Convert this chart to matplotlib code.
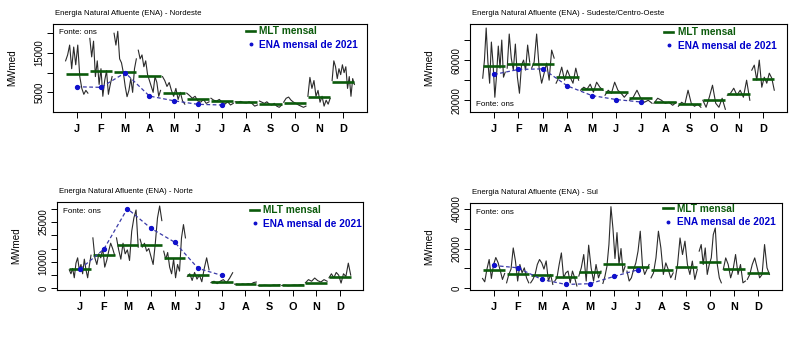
import numpy as np
import matplotlib
matplotlib.use("Agg")
import matplotlib.pyplot as plt
from matplotlib.lines import Line2D

plt.rcParams['font.family'] = ['Liberation Sans', 'DejaVu Sans']

month_labels = ['J', 'F', 'M', 'A', 'M', 'J', 'J', 'A', 'S', 'O', 'N', 'D']

# ---------------- Nordeste ----------------
ne_hist = [
    [13000, 14500, 17000, 11000, 16500, 12000, 17000, 9000, 6000, 4500, 5500, 4800],
    [18700, 14000, 18000, 9000, 13000, 7000, 11000, 4000, 8000, 10500, 4500, 7000, 9000],
    [20000, 17000, 20500, 13500, 12500, 10000, 6500, 3900, 5500, 8500, 5000, 11000, 13500],
    [15700, 13500, 14500, 11500, 13000, 9500, 8000, 6500, 5000, 9000, 7500, 4000, 5500],
    [9000, 8000, 6500, 7500, 5500, 4000, 6000, 3200, 5000, 2800, 2000],
    [4800, 4200, 3500, 4000, 2800, 2500, 3200, 2200, 2600],
    [3500, 3000, 2800, 3200, 2500, 2000, 2600, 1800, 2200],
    [2600, 2500, 2700, 2400, 2300, 2600, 2200, 1500, 1800],
    [2800, 2500, 2200, 2600, 2000, 1800, 2200, 1500, 1200, 1800],
    [2500, 3500, 3800, 3000, 2500, 2200, 1800, 1500, 1200, 1500],
    [4000, 8800, 6000, 8000, 4000, 5500, 2500, 4000, 1500, 3000, 2000, 3500],
    [8000, 13000, 11500, 8500, 11000, 9500, 12000, 10000, 11500, 6000, 9000, 4000, 8500, 7000],
]
ne_mlt = [9630, 10470, 10060, 9130, 4900, 3380, 2800, 2600, 2110, 2350, 3900, 7530]
ne_ena = [6420, 6270, 9960, 4060, 2870, 1960, 1790]

# ---------------- Sudeste/Centro-Oeste ----------------
se_hist = [
    [42000, 60000, 92000, 58000, 37000, 78000, 56000, 23000, 45000, 74000, 52000, 80000, 43000, 48000],
    [52000, 86000, 62000, 50000, 76000, 43000, 27000, 55000, 60000, 50000, 75000, 58000],
    [52000, 58000, 86000, 52000, 37000, 47000, 57000, 40000, 70000, 62000],
    [37000, 43000, 53000, 40000, 50000, 43000, 37000, 52000, 40000],
    [30000, 33000, 31000, 36000, 28000, 38000, 33000, 30000],
    [25000, 30000, 27000, 38000, 30000, 27000, 23000, 27000],
    [20000, 23000, 30000, 22000, 18000, 20000, 17000],
    [17000, 22000, 20000, 17000, 18000, 15000, 18000],
    [14000, 18000, 16000, 30000, 17000, 14000, 16000, 13000],
    [20000, 13000, 23000, 35000, 17000, 13000, 22000, 11000],
    [25000, 27000, 32000, 25000, 30000, 23000, 40000, 20000],
    [50000, 55000, 40000, 60000, 33000, 43000, 37000, 47000, 42000, 30000],
]
se_mlt = [54300, 55700, 55700, 42700, 31000, 28300, 22700, 18300, 16700, 20700, 26300, 41000]
se_ena = [45700, 50700, 51300, 34300, 24700, 20700, 18300]

# ---------------- Norte ----------------
n_hist = [
    [7000, 5500, 7500, 4000, 9500, 11500, 7000, 9000, 5500, 11000, 7000, 4000, 8500, 12500],
    [19000, 11500, 9000, 13000, 11500, 15000, 8000, 10500, 14000, 17000, 15000, 12500],
    [19000, 14500, 11000, 17000, 13000, 14500, 10500, 21500, 26500, 29500, 15500],
    [18500, 15500, 17000, 14000, 15000, 12000, 9000, 17000, 26500, 31000, 25500],
    [14000, 11000, 13500, 8000, 5500, 11000, 4000, 9000, 6500, 19000, 24000, 19000],
    [4500, 5500, 3000, 6000, 3500, 5000, 2500, 7500, 11500, 7000],
    [2200, 2700, 1800, 2700, 3300, 2100, 3800, 5900],
    [1600, 1500, 1400, 1700, 1500, 1800, 1600, 2200, 2400],
    [1100, 1000, 1200, 1100, 1000, 1300, 1200, 1400],
    [1100, 1200, 1000, 1100, 1300, 1200, 1400, 1300],
    [2100, 3300, 2700, 3900, 2900, 2400, 3300, 2700],
    [4000, 5500, 4000, 6000, 5000, 2000, 5500, 4500, 9500, 5000],
]
n_mlt = [7300, 12400, 16500, 16500, 11400, 4900, 2500, 1500, 1130, 1130, 2140, 4400]
n_ena = [7300, 14700, 30000, 22600, 17400, 7500, 4900]

# ---------------- Sul ----------------
s_hist = [
    [5000, 3300, 9700, 14500, 5000, 12000, 15500, 13000, 9000, 4500, 7500],
    [2800, 7000, 9700, 20300, 13700, 3700, 12000, 7800, 10300, 5300, 2800],
    [2800, 4500, 7000, 12000, 14500, 12800, 9700, 13800, 3700, 7000, 2000],
    [3700, 5300, 12000, 17800, 5300, 7800, 8700, 2800, 8700, 5300, 1200],
    [6200, 10300, 17000, 3700, 21700, 10300, 3700, 12000, 5300, 8700],
    [2500, 6000, 11000, 22000, 41000, 30000, 15000, 28000, 12000, 20000, 8000, 11000],
    [8700, 3700, 5300, 9500, 12800, 18700, 28700, 11300, 7000, 9500, 12000],
    [5300, 7800, 15300, 28700, 20300, 7000, 12800, 9500, 5300, 7800],
    [4500, 12000, 25300, 17000, 23700, 12000, 7000, 13700, 4500, 9500],
    [18700, 22000, 12000, 20300, 7000, 12000, 15300, 27000, 30300, 12000, 5300, 2800],
    [9500, 15300, 12000, 5300, 9500, 17000, 7000, 12000, 2800, 3700],
    [4500, 7000, 12000, 15300, 10300, 5300, 7000, 22000, 10300, 7000],
]
s_mlt = [9200, 7350, 6700, 5850, 8350, 12000, 10850, 9200, 10500, 13200, 9500, 7500]
s_ena = [11500, 10350, 4500, 2000, 2350, 6000, 9350]

W, H = 800, 337
fig = plt.figure(figsize=(8, 3.37), dpi=100)


def make_ax(x0, y0, x1, y1):
    return fig.add_axes([x0 / W, 1 - y1 / H, (x1 - x0) / W, (y1 - y0) / H])


def draw(ax, hist, mlt, ena, title, ylim, yticks, ylabels, leg_xy, fonte_xy, box_w, box_h):
    for i, vals in enumerate(hist):
        m = i + 1
        xs = np.linspace(m - 0.46, m + 0.46, len(vals))
        ax.plot(xs, vals, color='#2b2b2b', lw=0.8)
    mx = np.arange(1, len(mlt) + 1)
    ax.hlines(mlt, mx - 0.46, mx + 0.46, color='#0b5a0b', lw=1.9, zorder=3)
    ex = np.arange(1, len(ena) + 1)
    ax.plot(ex, ena, ls=(0, (3, 2)), color='#3a3aa8', lw=0.9, zorder=4)
    ax.plot(ex, ena, 'o', color='#1010cc', ms=2.8, zorder=5)
    ax.set_xlim(0.02, 12.98)
    ax.set_ylim(*ylim)
    ax.set_xticks(np.arange(1, 13))
    ax.set_xticklabels(month_labels, fontsize=7.8, fontweight='bold')
    ax.set_yticks(yticks)
    ax.set_yticklabels(ylabels, fontsize=6.9, rotation=90, va='center')
    ax.tick_params(axis='x', length=4, width=0.7, pad=5)
    ax.tick_params(axis='y', length=4.5, width=0.7, pad=1.5)
    for s in ax.spines.values():
        s.set_linewidth(0.8)
    ax.text(0.005, 1 + 10.7 / box_h, title, transform=ax.transAxes,
            fontsize=5.6, ha='left', va='center')
    ax.text(fonte_xy[0], fonte_xy[1], 'Fonte: ons', transform=ax.transAxes,
            fontsize=5.8, ha='left', va='center')
    ax.set_ylabel('MWmed', fontsize=7.1, va='center')
    ax.yaxis.set_label_coords(-41 / box_w, 0.5)
    handles = [Line2D([], [], color='#0b5a0b', lw=1.9),
               Line2D([], [], ls='none', marker='o', color='#1010cc', ms=1.8)]
    ax.legend(handles, ['MLT mensal', 'ENA mensal de 2021'],
              loc='upper left', bbox_to_anchor=leg_xy, frameon=False,
              prop={'weight': 'bold', 'size': 7.3}, handlelength=0.9,
              handletextpad=0.4, labelspacing=0.35, borderaxespad=0,
              borderpad=0, labelcolor=['#0b5a0b', '#0000cc'])


ax1 = make_ax(53, 24, 367, 112)
draw(ax1, ne_hist, ne_mlt, ne_ena, 'Energia Natural Afluente (ENA) - Nordeste',
     (13, 22350), [5000, 10000, 15000, 20000], ['5000', '', '15000', ''],
     (0.615, 0.975), (0.02, 0.905), 314, 88)

ax2 = make_ax(470, 24, 787, 112)
draw(ax2, se_hist, se_mlt, se_ena, 'Energia Natural Afluente (ENA) - Sudeste/Centro-Oeste',
     (8300, 96000), [20000, 40000, 60000, 80000], ['20000', '', '60000', ''],
     (0.613, 0.965), (0.02, 0.08), 317, 88)

ax3 = make_ax(57, 202, 363, 290)
draw(ax3, n_hist, n_mlt, n_ena, 'Energia Natural Afluente (ENA) - Norte',
     (-600, 32500), [0, 5000, 10000, 15000, 20000, 25000, 30000],
     ['0', '', '10000', '', '', '25000', ''],
     (0.631, 0.965), (0.02, 0.895), 306, 88)

ax4 = make_ax(470, 203, 782, 290)
draw(ax4, s_hist, s_mlt, s_ena, 'Energia Natural Afluente (ENA) - Sul',
     (-800, 42850), [0, 10000, 20000, 30000, 40000], ['0', '', '20000', '', '40000'],
     (0.62, 0.99), (0.02, 0.895), 312, 87)

fig.savefig('out.png', dpi=100, facecolor='white')
